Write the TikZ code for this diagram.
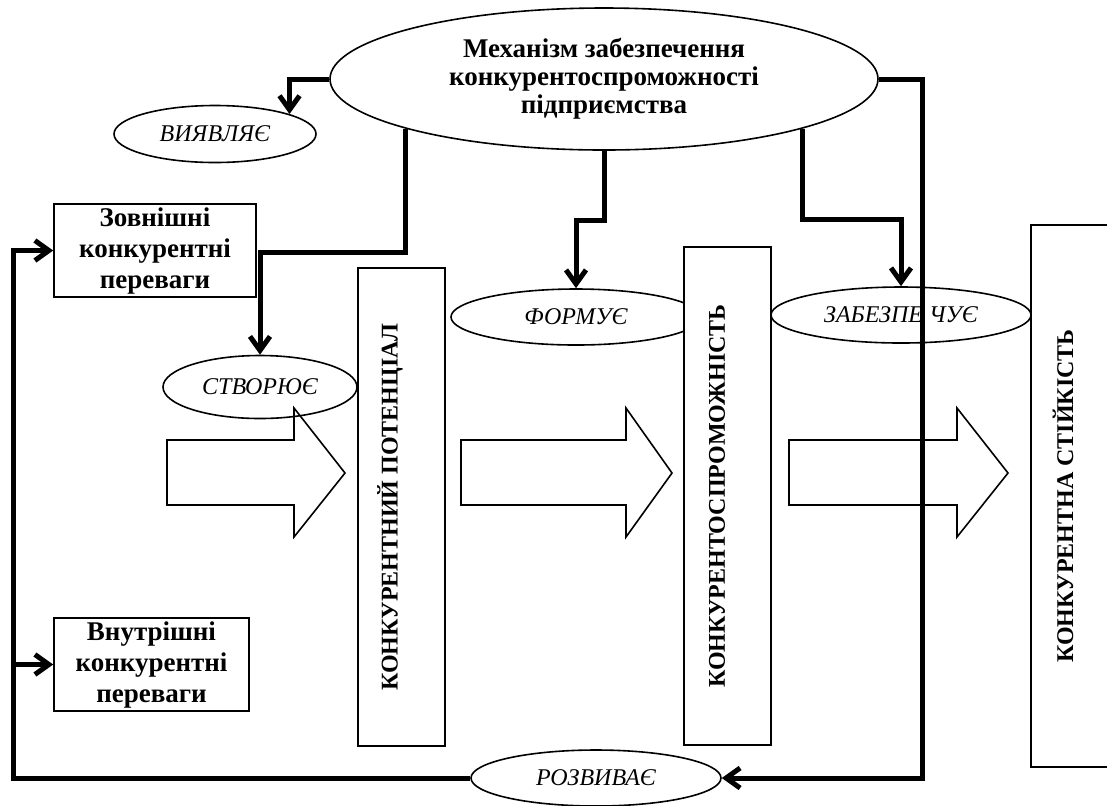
\documentclass[tikz,border=0pt]{standalone}
\usepackage{fontspec}
\setmainfont{Liberation Serif}
\usetikzlibrary{shapes.geometric,arrows.meta}

\begin{document}
\begin{tikzpicture}[
			x=0.5pt, y=-0.5pt,
			base/.style={draw, line width=0.8pt, align=center, inner sep=0pt},
			verb/.style={base, ellipse, font=\itshape\fontsize{12}{14}\selectfont},
			factor/.style={base, fill=white, font=\bfseries\fontsize{13.5}{15.5}\selectfont, minimum width=101pt, minimum height=46.5pt},
			column/.style={base, fill=white, minimum width=43.5pt},
			vtext/.style={rotate=90, font=\bfseries\fontsize{12}{14}\selectfont},
			flow/.style={line width=2.5pt, -{Straight Barb[length=7pt, width=10pt]}},
			hollow/.style={draw, line width=0.8pt},
			]

			\newcommand{\bigarrow}[3]{\draw[hollow] (#1,440) -- (#2,440) -- (#2,408) -- (#3,473) -- (#2,537) -- (#2,505) -- (#1,505) -- cycle;}

			\useasboundingbox (0,0) rectangle (1107,805);

			\node [verb, font=\bfseries\fontsize{13.5}{14}\selectfont, minimum width=274pt, minimum height=71pt] (mech) at (604,79) {Механізм забезпечення\\конкурентоспроможності\\підприємства};

			\node [verb, minimum width=101pt, minimum height=28.5pt] (viyav) at (215,134) {ВИЯВЛЯЄ};
			\node [verb, minimum width=97pt, minimum height=31.5pt]  (stvor) at (260,387) {СТВОРЮЄ};
			\node [verb, minimum width=125pt, minimum height=28pt]   (form)  at (576,317) {ФОРМУЄ};
			\node [verb, minimum width=130pt, minimum height=28pt]   (zabez) at (901,315) {ЗАБЕЗПЕ ЧУЄ};
			\node [verb, minimum width=125pt, minimum height=28pt]   (rozv)  at (596,778) {РОЗВИВАЄ};

			\node [factor] (zovn)  at (155,250.5) {Зовнішні\\конкурентні\\переваги};
			\node [factor, minimum width=97.5pt] (vnutr) at (151.5,664.5) {Внутрішні\\конкурентні\\переваги};

			\node [column, minimum height=239pt] (potent) at (401.5,507) {};
			\node [column, minimum height=249pt] (konk)   at (727.5,496) {};
			\node [column, minimum height=271pt, minimum width=42pt] (stiyk) at (1073,496) {};

			\node [vtext] (potent-text) at (390,507) {КОНКУРЕНТНИЙ ПОТЕНЦІАЛ};
			\node [vtext] (konk-text)   at (717,496) {КОНКУРЕНТОСПРОМОЖНІСТЬ};
			\node [vtext] (stiyk-text)  at (1063,496) {КОНКУРЕНТНА СТІЙКІСТЬ};

			\bigarrow{167}{294}{345}
			\bigarrow{461}{626}{672}
			\bigarrow{789}{957}{1008}

			\draw [flow] (mech.west) -| (viyav.15.5);
			\draw [flow] (mech.194.6) -- ++(0,124) -| (stvor.north);
			\draw [flow] (mech.south) -- ++(0,70) -| (form.north);
			\draw [flow] (mech.-14.4) -- ++(0,91) -| (zabez.north);
			\draw [flow] (mech.east) -- ++(44,0) |- (rozv.east);

			\coordinate (back) at (13,778);
			\draw [flow] (rozv.west) -- (back) |- (zovn.west);
			\draw [flow] (back |- vnutr.west) -- (vnutr.west);

		\end{tikzpicture}
\end{document}
